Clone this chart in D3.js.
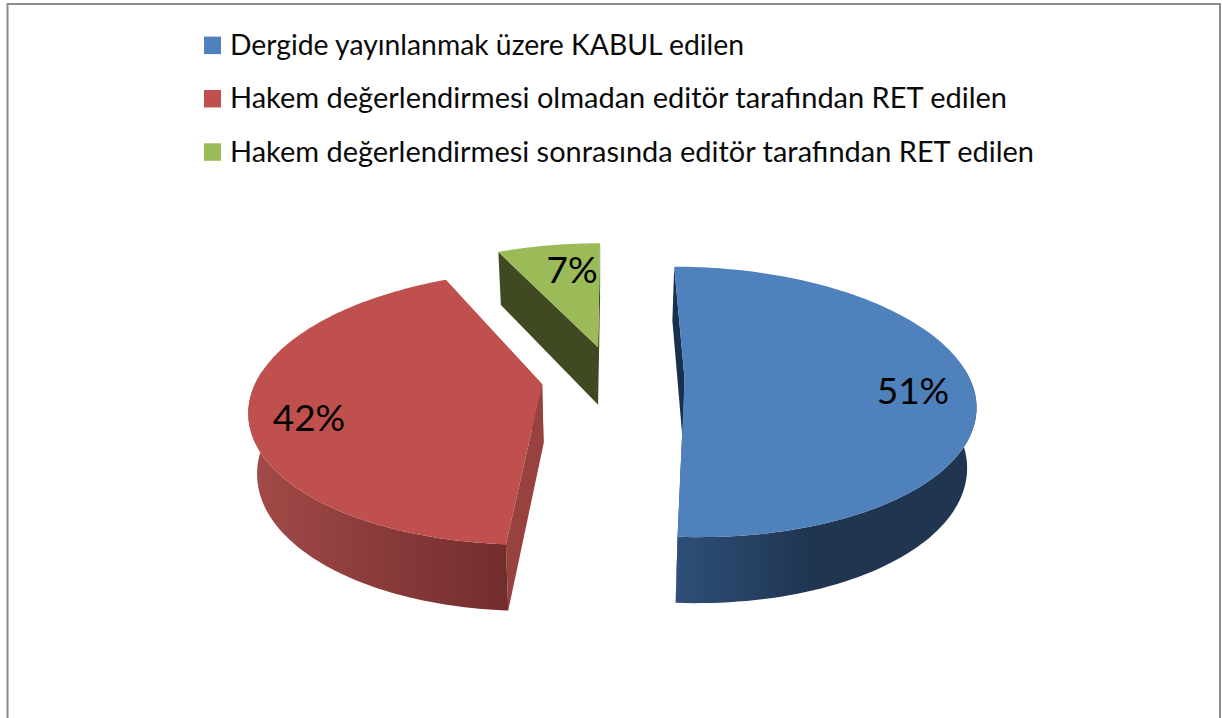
<!DOCTYPE html>
<html>
<head>
<meta charset="utf-8">
<script src="https://d3js.org/d3.v7.min.js"></script>
<style>
  html, body { margin: 0; padding: 0; background: #fff; }
  svg { display: block; }
</style>
</head>
<body>
<div id="chart"></div>
<script>
// kategoriler ve yüzdeler
const categories = [
    'Dergide yayınlanmak üzere KABUL edilen',
    'Hakem değerlendirmesi olmadan editör tarafından RET edilen',
    'Hakem değerlendirmesi sonrasında editör tarafından RET edilen'
];
const percents = [51, 42, 7];
const topColors = ['#4f81bd', '#c0504d', '#9bbb59'];
const sideColors = ['#17304f', '#984240', '#3f4a23'];
const rimStops = [
    ['#2f4f78', '#1f3550', '#1f3550'],
    ['#a34b49', '#8a3b3a', '#722e2d'],
    ['#3f4a23', '#3f4a23', '#3f4a23']
];
const legendWidths = [514, 777, 804];

const width = 1222;
const height = 718;

const svg = d3.select('#chart')
    .append('svg')
    .attr('width', width)
    .attr('height', height);

// perspektif: düzlemdeki (u,v) noktasını ekrana taşır
const cx = 613, cy = 378, rx = 285, ry = 131, persp = 0.169;
const explode = 0.251, wallH = 59, convergeX = 600, converge = 0.025;

function project(u, v) {
    const w = 1 - persp * v;
    return [cx + rx * u / w, cy + ry * v / w, w];
}

function lower(p) {
    return [p[0] + (convergeX - p[0]) * converge, p[1] + wallH / Math.pow(p[2], 0.6)];
}

const pie = d3.pie().value(d => d).sort(null);
const slices = pie(percents);
const line = d3.line();

const defs = svg.append('defs');

// dış çerçeve
svg.append('path')
    .attr('d', `M7.5,${height}V4H1220V${height}`)
    .attr('fill', 'none')
    .attr('stroke', '#8c8c8c')
    .attr('stroke-width', 2);

// arkadan öne: yeşil, kırmızı, mavi
[2, 1, 0].forEach(i => {
    const s = slices[i];
    const mid = (s.startAngle + s.endAngle) / 2;
    const u0 = explode * Math.sin(mid);
    const v0 = -explode * Math.cos(mid);
    const apex = project(u0, v0);
    const angles = d3.range(0, 121).map(k => s.startAngle + (s.endAngle - s.startAngle) * k / 120);
    const rim = angles.map(a => project(u0 + Math.sin(a), v0 - Math.cos(a)));
    const g = svg.append('g').attr('class', 'slice');

    // kesit duvarları
    [rim[0], rim[rim.length - 1]].forEach(p => {
        g.append('path')
            .attr('d', line([apex, p, lower(p), lower(apex)].map(q => q.slice(0, 2))) + 'Z')
            .attr('fill', sideColors[i]);
    });

    // dış duvar, yalnızca öne bakan kısım
    const frontRim = rim.filter((p, k) => Math.cos(angles[k]) < 0.1);
    if (frontRim.length > 1) {
        const xExtent = d3.extent(frontRim, p => p[0]);
        const gradId = 'rim' + i;
        const grad = defs.append('linearGradient')
            .attr('id', gradId)
            .attr('gradientUnits', 'userSpaceOnUse')
            .attr('x1', xExtent[0])
            .attr('x2', xExtent[1])
            .attr('y1', 0).attr('y2', 0);
        rimStops[i].forEach((c, k) => {
            grad.append('stop').attr('offset', i === 0 && k === 1 ? 0.45 : k / 2).attr('stop-color', c);
        });
        const wall = frontRim.map(p => p.slice(0, 2)).concat(frontRim.map(lower).reverse());
        g.append('path')
            .attr('d', line(wall) + 'Z')
            .attr('fill', `url(#${gradId})`);
    }

    // üst yüz
    const face = [apex].concat(rim).map(p => p.slice(0, 2));
    g.append('path')
        .attr('d', line(face) + 'Z')
        .attr('fill', topColors[i]);
});

// yüzde etiketleri
const labelPos = [[913, 404], [309, 431], [572, 283]];
svg.selectAll('.pct')
    .data(percents)
    .enter()
    .append('text')
    .attr('class', 'pct')
    .attr('x', (d, i) => labelPos[i][0])
    .attr('y', (d, i) => labelPos[i][1])
    .attr('text-anchor', 'middle')
    .style('font-family', 'Lato, "Open Sans", sans-serif')
    .style('font-size', '37px')
    .attr('fill', '#000')
    .text(d => d + '%');

// lejant
const legendY = d3.scalePoint().domain(categories).range([45.3, 152]);
const legend = svg.selectAll('.legend')
    .data(categories)
    .enter()
    .append('g')
    .attr('class', 'legend');

legend.append('rect')
    .attr('x', 204)
    .attr('y', d => legendY(d) - 8.7)
    .attr('width', 17)
    .attr('height', 17.5)
    .attr('fill', (d, i) => topColors[i]);

legend.append('text')
    .attr('x', 230)
    .attr('y', d => legendY(d) + 9.5)
    .attr('textLength', (d, i) => legendWidths[i])
    .attr('lengthAdjust', 'spacingAndGlyphs')
    .style('font-family', 'Lato, "Open Sans", sans-serif')
    .style('font-size', '29px')
    .attr('fill', '#0a0a0a')
    .text(d => d);
</script>
</body>
</html>
